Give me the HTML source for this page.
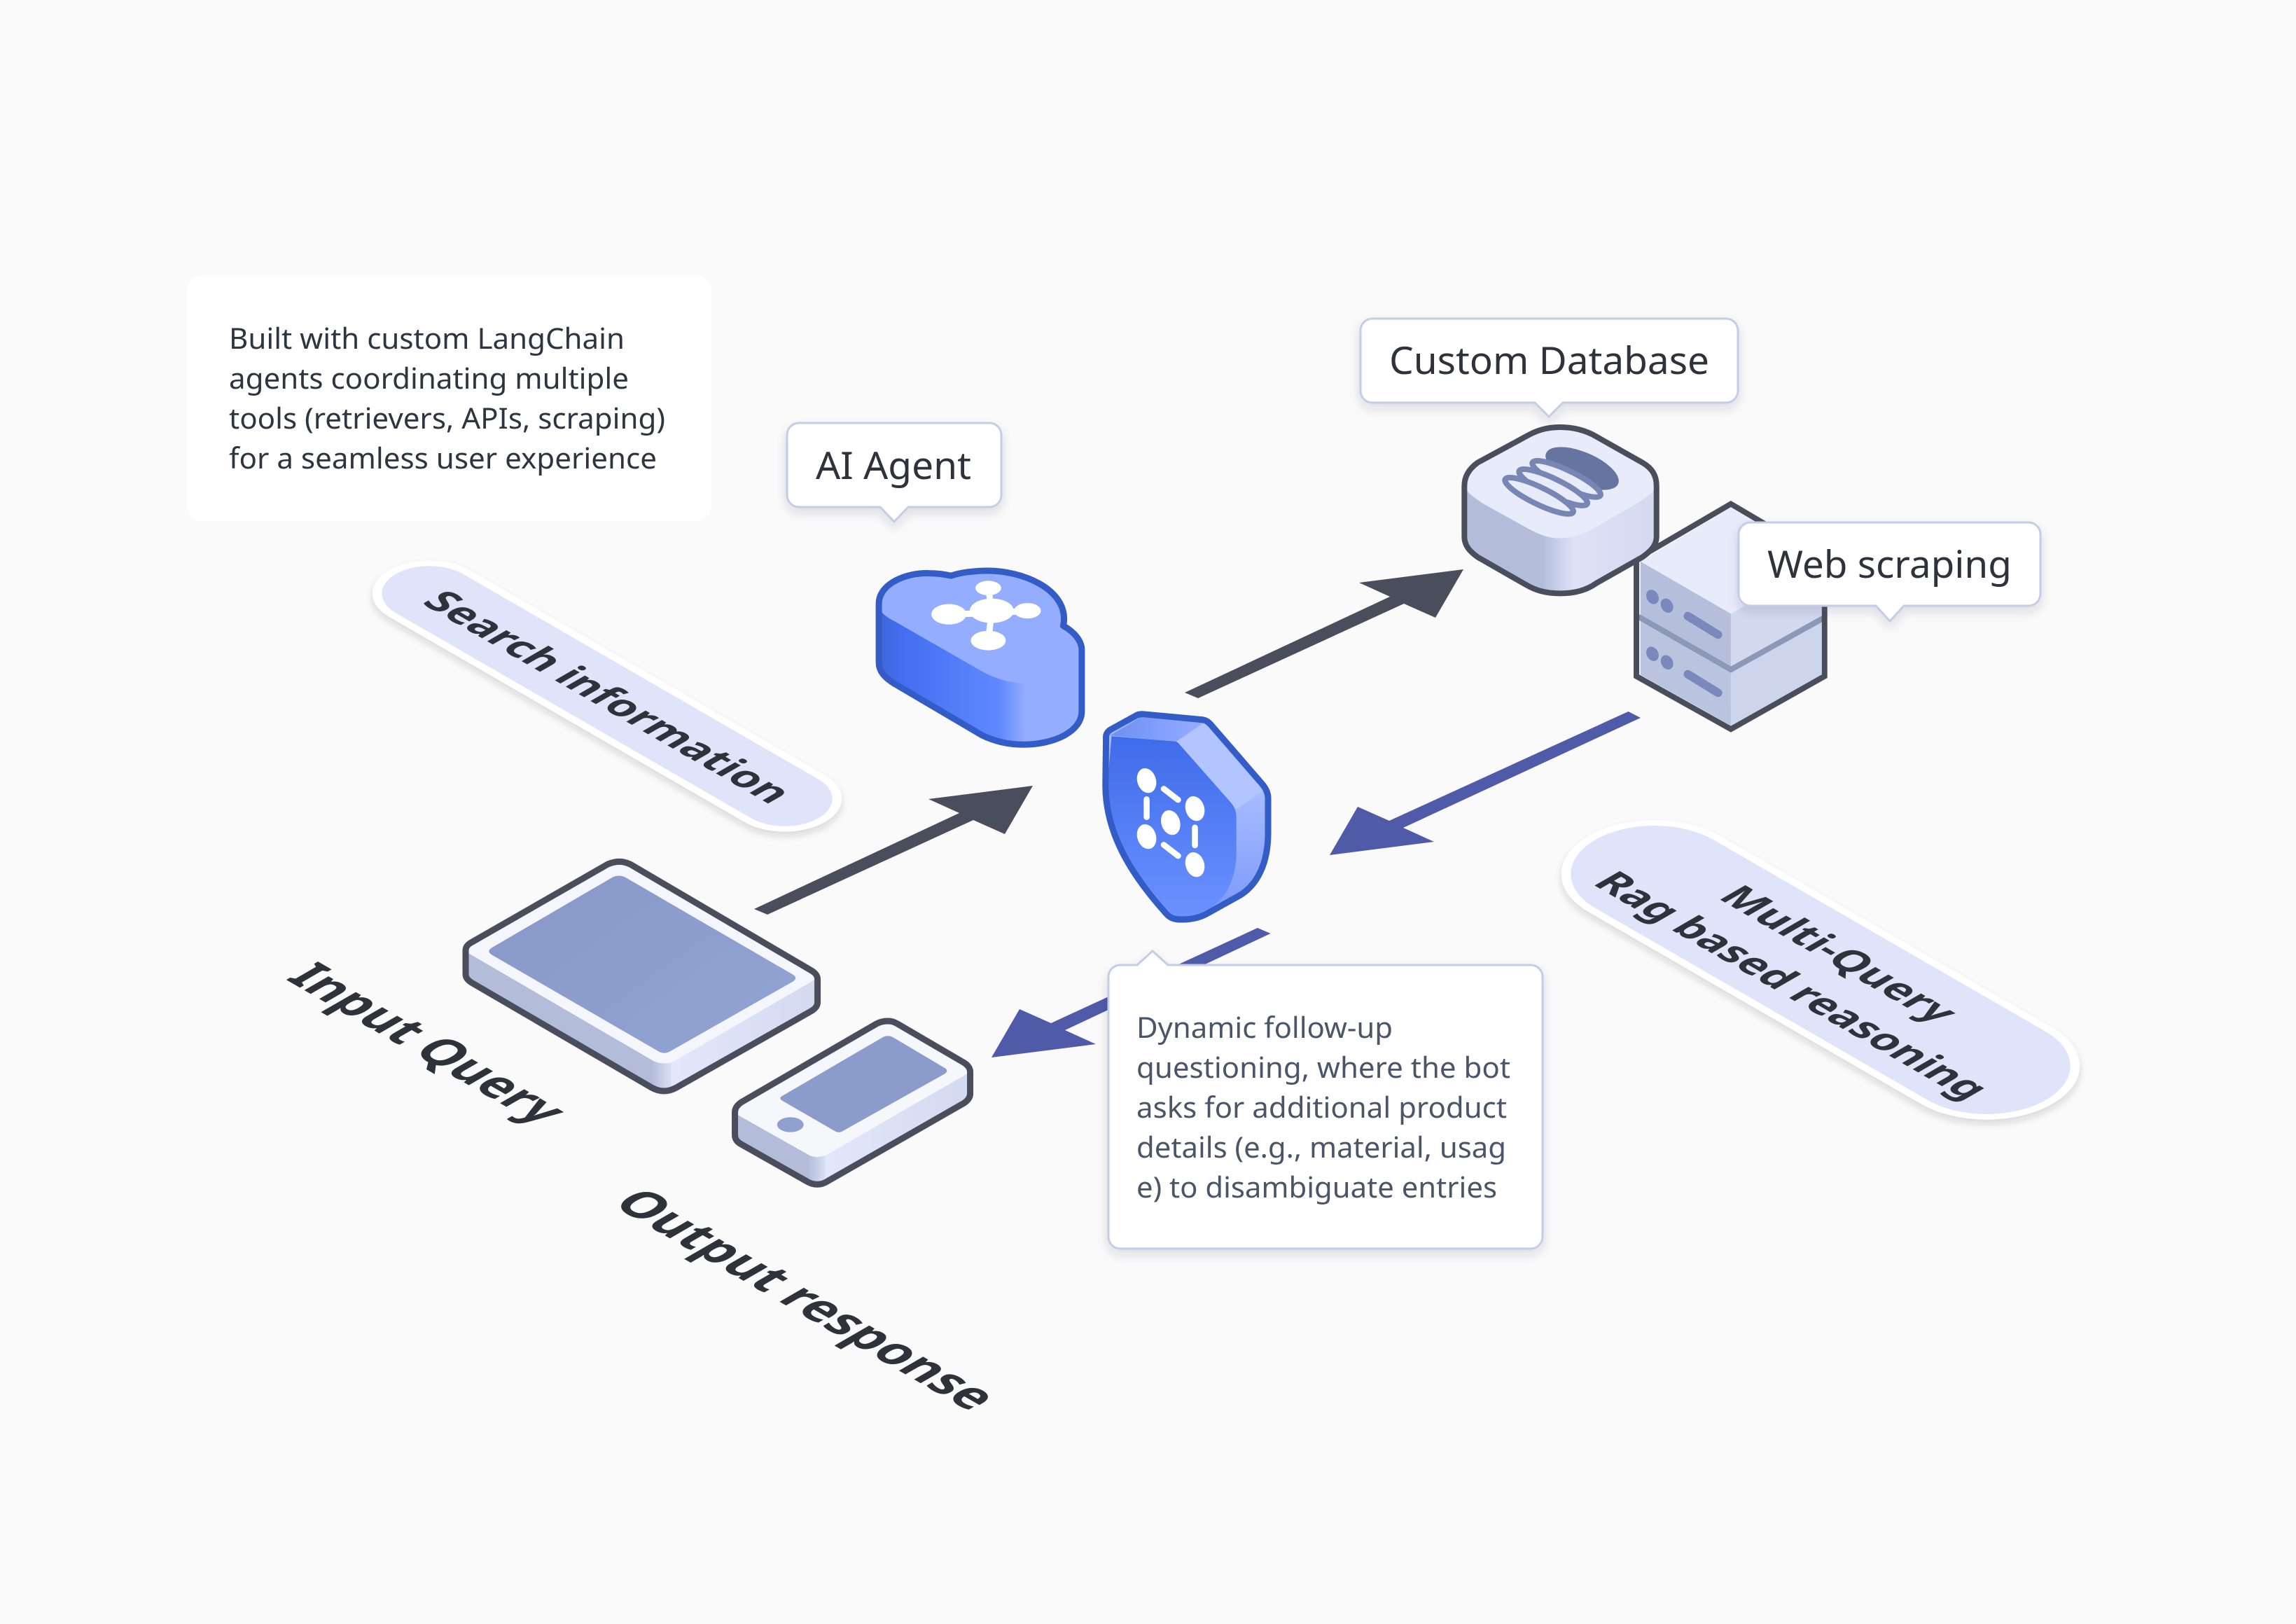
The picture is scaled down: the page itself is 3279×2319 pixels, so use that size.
<!DOCTYPE html>
<html><head><meta charset="utf-8"><style>
html,body{margin:0;padding:0;background:#fafafa}
svg{display:block}
text{font-family:"Noto Sans","Noto Sans CJK SC","Liberation Sans",sans-serif}
.ns{vector-effect:non-scaling-stroke}
.iso{font-weight:700;fill:#2d323b}
</style></head><body>
<svg width="3279" height="2319" viewBox="0 0 3279 2319" xmlns="http://www.w3.org/2000/svg">
<defs>
<filter id="sh" x="-20%" y="-20%" width="140%" height="150%"><feDropShadow dx="0" dy="7" stdDeviation="7" flood-color="#2a3050" flood-opacity=".14"/></filter>
<filter id="ps" x="-10%" y="-10%" width="120%" height="120%"><feDropShadow dx="0" dy="6" stdDeviation="5" flood-color="#202020" flood-opacity=".16"/></filter>
<linearGradient id="cs" gradientUnits="userSpaceOnUse" x1="145" y1="0" x2="835" y2="0"><stop offset="0" stop-color="#3f66dc"/><stop offset=".1" stop-color="#426ef0"/><stop offset=".6" stop-color="#6089ff"/><stop offset=".73" stop-color="#94adff"/><stop offset="1" stop-color="#94adff"/></linearGradient>
<linearGradient id="sf" gradientUnits="userSpaceOnUse" x1="0" y1="760" x2="0" y2="1490"><stop offset="0" stop-color="#3f6cea"/><stop offset="1" stop-color="#6b91ff"/></linearGradient>
<linearGradient id="sr" gradientUnits="userSpaceOnUse" x1="0" y1="1000" x2="0" y2="1440"><stop offset="0" stop-color="#a5baff"/><stop offset="1" stop-color="#7f9cf8"/></linearGradient>
<linearGradient id="st" gradientUnits="userSpaceOnUse" x1="950" y1="0" x2="1270" y2="0"><stop offset="0" stop-color="#6f90f4"/><stop offset="1" stop-color="#94adff"/></linearGradient>
<linearGradient id="dbs" gradientUnits="userSpaceOnUse" x1="265" y1="0" x2="345" y2="0"><stop offset="0" stop-color="#b3bdda"/><stop offset="1" stop-color="#dde2f7"/></linearGradient>
<linearGradient id="dbr" gradientUnits="userSpaceOnUse" x1="345" y1="0" x2="550" y2="0"><stop offset="0" stop-color="#dde2f7"/><stop offset="1" stop-color="#d3d9ef"/></linearGradient>
<linearGradient id="ts" gradientUnits="userSpaceOnUse" x1="570" y1="0" x2="640" y2="0"><stop offset="0" stop-color="#b3bdda"/><stop offset="1" stop-color="#e2e7fb"/></linearGradient>
<linearGradient id="tr" gradientUnits="userSpaceOnUse" x1="640" y1="0" x2="1040" y2="0"><stop offset="0" stop-color="#e2e7fb"/><stop offset="1" stop-color="#d3d9ef"/></linearGradient>
<linearGradient id="ps1" gradientUnits="userSpaceOnUse" x1="1005" y1="0" x2="1065" y2="0"><stop offset="0" stop-color="#b3bdda"/><stop offset="1" stop-color="#e2e7fb"/></linearGradient>
<linearGradient id="ps2" gradientUnits="userSpaceOnUse" x1="1065" y1="0" x2="1467" y2="0"><stop offset="0" stop-color="#e2e7fb"/><stop offset="1" stop-color="#d3d9ef"/></linearGradient>
<linearGradient id="scr" gradientUnits="userSpaceOnUse" x1="120" y1="150" x2="970" y2="910"><stop offset="0" stop-color="#8798c9"/><stop offset="1" stop-color="#92a4d3"/></linearGradient>
</defs>
<rect width="3279" height="2319" fill="#fafafa"/>

<!-- info box -->
<rect x="267" y="393" width="749" height="351" rx="22" fill="#fff"/>
<g font-size="41" fill="#2d3540">
<text x="327" y="498" textLength="565" lengthAdjust="spacingAndGlyphs">Built with custom LangChain</text>
<text x="327" y="555" textLength="571" lengthAdjust="spacingAndGlyphs">agents coordinating multiple</text>
<text x="327" y="612" textLength="623" lengthAdjust="spacingAndGlyphs">tools (retrievers, APIs, scraping)</text>
<text x="327" y="669" textLength="611" lengthAdjust="spacingAndGlyphs">for a seamless user experience</text>
</g>

<!-- pills -->
<g filter="url(#ps)"><rect transform="matrix(.866,.5,-.866,.5,867,994)" x="-354" y="-61" width="708" height="122" rx="61" fill="#dfe4fa" stroke="#fff" stroke-width="11"/></g>
<text class="iso" font-size="58" transform="matrix(.866,.5,-.866,.5,601,861)" textLength="577" lengthAdjust="spacingAndGlyphs">Search information</text>

<g filter="url(#ps)"><rect transform="matrix(.866,.5,-.866,.5,2600,1385)" x="-377" y="-103" width="754" height="206" rx="103" fill="#dfe4fa" stroke="#fff" stroke-width="11"/></g>
<text class="iso" font-size="58" transform="matrix(.866,.5,-.866,.5,2452,1282)" textLength="362" lengthAdjust="spacingAndGlyphs">Multi-Query</text>
<text class="iso" font-size="58" transform="matrix(.866,.5,-.866,.5,2273,1262)" textLength="620" lengthAdjust="spacingAndGlyphs">Rag based reasoning</text>

<text class="iso" font-size="73" transform="matrix(.866,.5,-.866,.5,407,1398)" textLength="420" lengthAdjust="spacingAndGlyphs">Input Query</text>
<text class="iso" font-size="73" transform="matrix(.866,.5,-.866,.5,873,1720)" textLength="593" lengthAdjust="spacingAndGlyphs">Output response</text>

<!-- arrows -->
<polygon fill="#4a4e5c" points="1077,1298 1370,1161 1326,1141 1475,1122 1435,1191 1390,1171 1096,1306"/>
<polygon fill="#4a4e5c" transform="translate(615,-309)" points="1077,1298 1370,1161 1326,1141 1475,1122 1435,1191 1390,1171 1096,1306"/>
<polygon fill="#4f5ba8" points="2325.5,1016 1984,1172 1939,1152 1899,1221 2048,1202 2004,1182 2343,1025"/>
<polygon fill="#4f5ba8" points="1796,1325 1501,1461 1456,1441 1416,1510 1565,1491 1521,1471 1814.5,1333"/>

<!-- cloud + shield -->
<g transform="translate(1200,780) scale(.40816,.35714)">
<path d="M135,230C135,150 230,105 310,108C340,108 365,112 388,118C420,105 470,98 515,98C640,98 783,170 783,290C783,300 782,310 780,318C815,340 845,375 845,415L845,660C845,740 750,793 640,793C590,793 540,780 495,755L190,550C155,525 135,500 135,465Z" fill="url(#cs)"/>
<path d="M135,230C135,150 230,105 310,108C340,108 365,112 388,118C420,105 470,98 515,98C640,98 783,170 783,290C783,300 782,310 780,318C815,340 845,375 845,415C845,490 750,548 650,548C590,548 530,525 480,490L190,300C155,280 135,260 135,230Z" fill="#94adff"/>
<path class="ns" d="M135,230C135,150 230,105 310,108C340,108 365,112 388,118C420,105 470,98 515,98C640,98 783,170 783,290C783,300 782,310 780,318C815,340 845,375 845,415L845,660C845,740 750,793 640,793C590,793 540,780 495,755L190,550C155,525 135,500 135,465Z" fill="none" stroke="#335cc6" stroke-width="9" stroke-linejoin="round"/>
<g stroke="#fff" fill="none"><path class="ns" d="M518,167L530,258M380,272L530,268L655,258M530,258L518,377" stroke-width="9"/></g>
<g fill="#fff"><ellipse cx="530" cy="258" rx="77" ry="49"/><ellipse cx="518" cy="167" rx="45" ry="29"/><ellipse cx="380" cy="272" rx="61" ry="41"/><ellipse cx="655" cy="258" rx="47" ry="31"/><ellipse cx="518" cy="377" rx="61" ry="39"/></g>

<g transform="translate(1212,1082) scale(.966) translate(-1212,-1082)">
<path d="M920,760C918,740 925,730 935,722L1030,662C1038,657 1045,656 1055,657L1270,680C1283,682 1290,690 1297,697L1485,945C1500,965 1507,985 1507,1005L1507,1150C1507,1270 1470,1365 1400,1410L1290,1480C1260,1500 1230,1507 1195,1507C1170,1507 1155,1503 1140,1485C1010,1320 918,1150 918,950Z" fill="url(#sr)"/>
<path d="M935,745L1045,670L1275,692L1175,772Z" fill="url(#st)"/>
<path d="M1175,770L1275,692L1490,975L1392,1050Z" fill="#b3c5ff"/>
<path d="M940,748L1170,770C1180,772 1185,780 1190,787L1370,1020C1385,1040 1392,1060 1392,1080L1392,1230C1392,1330 1360,1400 1320,1440C1290,1470 1240,1495 1195,1495C1170,1495 1160,1490 1150,1475C1020,1310 925,1150 925,950Z" fill="url(#sf)"/>
<path class="ns" d="M920,760C918,740 925,730 935,722L1030,662C1038,657 1045,656 1055,657L1270,680C1283,682 1290,690 1297,697L1485,945C1500,965 1507,985 1507,1005L1507,1150C1507,1270 1470,1365 1400,1410L1290,1480C1260,1500 1230,1507 1195,1507C1170,1507 1155,1503 1140,1485C1010,1320 918,1150 918,950Z" fill="none" stroke="#335cc6" stroke-width="9" stroke-linejoin="round"/>
</g>
<g fill="#fff">
<ellipse cx="1072" cy="937" rx="33" ry="50" transform="rotate(-12 1072 937)"/>
<ellipse cx="1241" cy="1049" rx="33" ry="50" transform="rotate(-12 1241 1049)"/>
<ellipse cx="1156" cy="1105" rx="33" ry="50" transform="rotate(-12 1156 1105)"/>
<ellipse cx="1072" cy="1161" rx="33" ry="50" transform="rotate(-12 1072 1161)"/>
<ellipse cx="1241" cy="1273" rx="33" ry="50" transform="rotate(-12 1241 1273)"/>
</g>
<g stroke="#fff" fill="none" stroke-linecap="round"><path class="ns" d="M1132,970L1182,1014M1072,1012L1072,1083M1241,1125L1241,1196M1132,1194L1182,1238" stroke-width="8.5"/></g>
</g>

<!-- server + database -->
<g transform="translate(2050,420) scale(.57405,.41494)">
<polygon points="735,735 510,920 735,1100 960,920" fill="#e7ebfa"/>
<polygon points="510,920 735,1100 735,1285 510,1110" fill="#b5bfdc"/>
<polygon points="510,1120 735,1300 735,1485 510,1310" fill="#bac4df"/>
<polygon points="735,1100 960,920 960,1110 735,1285" fill="#d3d9ef"/>
<polygon points="735,1300 960,1120 960,1310 735,1485" fill="#cdd5ec"/>
<path class="ns" d="M505,1110L735,1292L965,1115" fill="none" stroke="#8c98b8" stroke-width="8"/>
<polygon class="ns" points="735,722 500,912 500,1315 735,1497 968,1315 968,912" fill="none" stroke="#4a4e5c" stroke-width="8" stroke-linejoin="miter"/>
<g fill="#7a88bc">
<ellipse cx="540" cy="1042" rx="15" ry="25" transform="rotate(-12 540 1042)"/>
<ellipse cx="576" cy="1072" rx="15" ry="25" transform="rotate(-12 576 1072)"/>
<ellipse cx="540" cy="1238" rx="15" ry="25" transform="rotate(-12 540 1238)"/>
<ellipse cx="576" cy="1267" rx="15" ry="25" transform="rotate(-12 576 1267)"/>
</g>
<path class="ns" d="M628,1108L703,1172M628,1308L703,1372" stroke="#7a88bc" stroke-width="12" stroke-linecap="round" fill="none"/>

<path d="M310,458C345,458 375,470 400,490L515,580C540,600 550,625 550,660L550,835C550,865 535,885 515,905L400,995C375,1020 345,1030 310,1030C275,1030 250,1020 225,1000L105,905C85,885 72,865 72,835L72,660C72,625 85,600 105,580L225,490C250,470 275,458 310,458Z" fill="url(#dbs)"/>
<path d="M310,700L550,660L550,835C550,865 535,885 515,905L400,995C375,1020 345,1030 345,1030L345,700Z" fill="url(#dbr)"/>
<path d="M310,458C345,458 375,470 400,490L515,580C540,600 550,625 550,660C545,680 525,700 495,725L395,805C365,830 335,840 310,840C285,840 265,832 235,810L130,730C100,705 78,685 72,660C72,625 85,600 105,580L225,490C250,470 275,458 310,458Z" fill="#e7ebfa"/>
<path class="ns" d="M310,458C345,458 375,470 400,490L515,580C540,600 550,625 550,660L550,835C550,865 535,885 515,905L400,995C375,1020 345,1030 310,1030C275,1030 250,1020 225,1000L105,905C85,885 72,865 72,835L72,660C72,625 85,600 105,580L225,490C250,470 275,458 310,458Z" fill="none" stroke="#4a4e5c" stroke-width="8"/>
<ellipse cx="365" cy="600" rx="105" ry="52" transform="rotate(35 365 600)" fill="#66749f"/>
<g fill="#e7ebfa" stroke="#7886b4">
<ellipse class="ns" cx="326" cy="636" rx="102" ry="27" transform="rotate(35 326 636)" stroke-width="8"/>
<ellipse class="ns" cx="293" cy="665" rx="102" ry="27" transform="rotate(35 293 665)" stroke-width="8"/>
<ellipse class="ns" cx="258" cy="694" rx="102" ry="27" transform="rotate(35 258 694)" stroke-width="8"/>
</g>
</g>

<!-- tablet + phone -->
<g transform="translate(640,1200) scale(.5102,.33333)">
<g transform="translate(541,582) scale(.988) translate(-541,-582)">
<path d="M478,85C490,85 500,90 510,97L1020,555C1035,568 1040,580 1040,595L1040,695C1040,710 1035,722 1020,735L640,1065C628,1075 618,1080 605,1080C592,1080 582,1075 570,1065L60,610C48,598 43,588 43,572L43,470C43,455 48,445 60,435L445,97C455,90 465,85 478,85Z" fill="url(#ts)"/>
<path d="M605,960L1040,590L1040,695C1040,710 1035,722 1020,735L640,1065C628,1075 625,1080 625,1080L625,960Z" fill="url(#tr)"/>
<path d="M478,85C490,85 500,90 510,97L1020,555C1035,568 1040,580 1040,590L640,945C625,958 615,960 605,960C595,960 585,958 570,945L43,475C43,455 48,445 60,435L445,97C455,90 465,85 478,85Z" fill="#f4f6fb"/>
<path class="ns" d="M478,85C490,85 500,90 510,97L1020,555C1035,568 1040,580 1040,595L1040,695C1040,710 1035,722 1020,735L640,1065C628,1075 618,1080 605,1080C592,1080 582,1075 570,1065L60,610C48,598 43,588 43,572L43,470C43,455 48,445 60,435L445,97C455,90 465,85 478,85Z" fill="none" stroke="#4a4e5c" stroke-width="9"/>
</g>
<path d="M478,152C486,152 492,155 498,160L965,575C975,585 975,595 965,605L620,905C610,913 600,913 590,905L122,490C112,480 112,470 122,460L458,160C464,155 470,152 478,152Z" fill="url(#scr)"/>

<g transform="translate(1132,1124) scale(.983) translate(-1132,-1124)">
<path d="M1232,768C1245,768 1250,772 1260,780L1450,950C1462,962 1467,975 1467,990L1467,1085C1467,1100 1462,1112 1450,1125L1062,1465C1052,1475 1042,1480 1032,1480C1020,1480 1010,1475 1000,1465L815,1305C803,1295 797,1282 797,1265L797,1165C797,1150 803,1135 815,1122L1200,780C1210,772 1220,768 1232,768Z" fill="url(#ps1)"/>
<path d="M1032,1360L1467,990L1467,1085C1467,1100 1462,1112 1450,1125L1062,1465C1055,1472 1055,1475 1055,1475L1055,1355Z" fill="url(#ps2)"/>
<path d="M1232,768C1245,768 1250,772 1260,780L1450,950C1462,962 1467,975 1467,990L1065,1345C1050,1358 1040,1360 1032,1360C1022,1360 1012,1358 1000,1345L797,1170C797,1150 803,1135 815,1122L1200,780C1210,772 1220,768 1232,768Z" fill="#f5f7fb"/>
<path class="ns" d="M1232,768C1245,768 1250,772 1260,780L1450,950C1462,962 1467,975 1467,990L1467,1085C1467,1100 1462,1112 1450,1125L1062,1465C1052,1475 1042,1480 1032,1480C1020,1480 1010,1475 1000,1465L815,1305C803,1295 797,1282 797,1265L797,1165C797,1150 803,1135 815,1122L1200,780C1210,772 1220,768 1232,768Z" fill="none" stroke="#4a4e5c" stroke-width="9"/>
</g>
<path d="M1232,838C1238,838 1242,841 1248,846L1390,975C1398,982 1398,992 1390,1000L1105,1245C1098,1252 1090,1252 1082,1245L935,1115C928,1108 928,1100 935,1095L1215,845C1222,838 1226,838 1232,838Z" fill="#8b9bcc"/>
<ellipse cx="958" cy="1218" rx="37" ry="32" fill="#8f9fcf"/>
</g>

<!-- bubbles -->
<g filter="url(#sh)"><path d="M1141,604H1413A17,17 0 0 1 1430,621V707A17,17 0 0 1 1413,724H1297L1277,745L1257,724H1141A17,17 0 0 1 1124,707V621A17,17 0 0 1 1141,604Z" fill="#fff" stroke="#c3cde6" stroke-width="3"/></g>
<text x="1165" y="684" font-size="54" fill="#2d323b" textLength="222" lengthAdjust="spacingAndGlyphs">AI Agent</text>

<g filter="url(#sh)"><path d="M1960,455H2465A17,17 0 0 1 2482,472V558A17,17 0 0 1 2465,575H2232L2212,595L2192,575H1960A17,17 0 0 1 1943,558V472A17,17 0 0 1 1960,455Z" fill="#fff" stroke="#c3cde6" stroke-width="3"/></g>
<text x="1984" y="534" font-size="54" fill="#2d323b" textLength="457" lengthAdjust="spacingAndGlyphs">Custom Database</text>

<g filter="url(#sh)"><path d="M2500,746H2897A17,17 0 0 1 2914,763V848A17,17 0 0 1 2897,865H2719L2699,887L2679,865H2500A17,17 0 0 1 2483,848V763A17,17 0 0 1 2500,746Z" fill="#fff" stroke="#c3cde6" stroke-width="3"/></g>
<text x="2524" y="825" font-size="54" fill="#2d323b" textLength="349" lengthAdjust="spacingAndGlyphs">Web scraping</text>

<g filter="url(#sh)"><path d="M1600,1378H1624L1646,1358L1668,1378H2186A17,17 0 0 1 2203,1395V1766A17,17 0 0 1 2186,1783H1600A17,17 0 0 1 1583,1766V1395A17,17 0 0 1 1600,1378Z" fill="#fff" stroke="#c3cde6" stroke-width="3"/></g>
<g font-size="41" fill="#4a5568">
<text x="1623" y="1482" textLength="366" lengthAdjust="spacingAndGlyphs">Dynamic follow-up</text>
<text x="1623" y="1539" textLength="534" lengthAdjust="spacingAndGlyphs">questioning, where the bot</text>
<text x="1623" y="1596" textLength="529" lengthAdjust="spacingAndGlyphs">asks for additional product</text>
<text x="1623" y="1653" textLength="528" lengthAdjust="spacingAndGlyphs">details (e.g., material, usag</text>
<text x="1623" y="1710" textLength="515" lengthAdjust="spacingAndGlyphs">e) to disambiguate entries</text>
</g>
</svg>
</body></html>
